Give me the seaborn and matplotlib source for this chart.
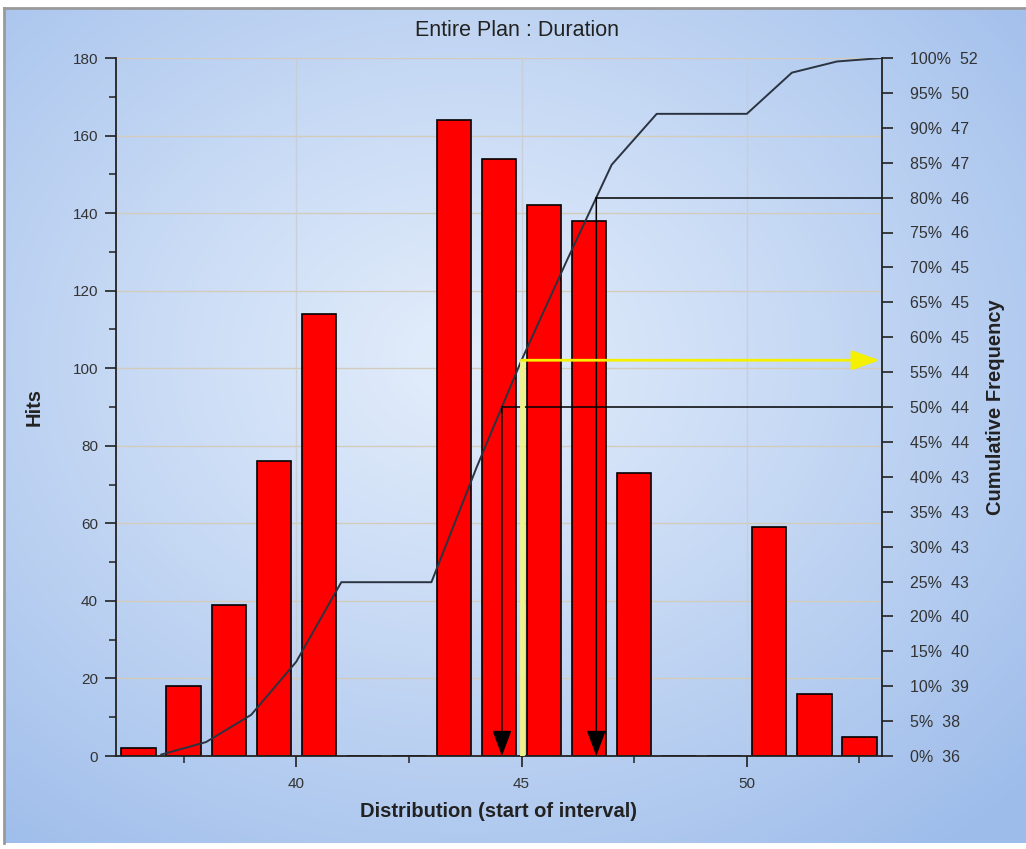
import numpy as np
import pandas as pd
import matplotlib
matplotlib.use('Agg')
import matplotlib.pyplot as plt
import seaborn as sns
from matplotlib.ticker import MultipleLocator

# histogram: start of each 1-unit interval and the hits in it
bin_starts = [36, 37, 38, 39, 40, 41, 42, 43, 44, 45, 46, 47, 48, 49, 50, 51, 52]
hits = [2, 18, 39, 76, 114, 0, 0, 164, 154, 142, 138, 73, 0, 0, 59, 16, 5]

# right axis: percentile ticks and the duration shown next to each
pct_ticks = [0, 5, 10, 15, 20, 25, 30, 35, 40, 45, 50, 55, 60, 65, 70, 75, 80, 85, 90, 95, 100]
pct_values = [36, 38, 39, 40, 40, 43, 43, 43, 43, 44, 44, 44, 45, 45, 45, 46, 46, 47, 47, 50, 52]

marked_pcts = [50, 80]
target_x = 45

df = pd.DataFrame({'start': bin_starts, 'hits': hits})

sns.set_theme(style='white')
plt.rcParams['font.family'] = ['Liberation Sans', 'DejaVu Sans']
text_col = '#333333'

W, H = 1026, 849
fig = plt.figure(figsize=(W / 100, H / 100), dpi=100)
fig.patch.set_facecolor('white')

# radial blue gradient panel behind everything
bg = fig.add_axes([4 / W, (H - 843) / H, 1 - 4 / W, (843 - 8) / H], zorder=-5)
gy, gx = np.mgrid[0:1:300j, 0:1:400j]
d = np.sqrt(((gx - 0.45) / 0.75) ** 2 + ((gy - 0.42) / 0.75) ** 2)
d = np.clip(d, 0, 1) ** 1.1
c_in = np.array([0.89, 0.93, 0.985])
c_out = np.array([0.62, 0.74, 0.92])
img = c_in[None, None, :] * (1 - d[..., None]) + c_out[None, None, :] * d[..., None]
bg.imshow(img, aspect='auto', extent=[0, 1, 0, 1], origin='upper')
bg.set_xlim(0, 1)
bg.set_ylim(0, 1)
for s in ['right', 'bottom']:
    bg.spines[s].set_visible(False)
for s in ['left', 'top']:
    bg.spines[s].set_color('#9a9a9a')
    bg.spines[s].set_linewidth(2)
bg.set_xticks([])
bg.set_yticks([])

ax = fig.add_axes([116 / W, 93 / H, 766 / W, 698 / H])
ax.patch.set_alpha(0)

sns.histplot(data=df, x='start', weights='hits', binwidth=1, binrange=(36, 53),
             shrink=0.76, color='#ff0000', edgecolor='black', linewidth=1.2,
             alpha=1, ax=ax)

ax.set_xlim(36, 53)
ax.set_ylim(0, 180)
ax.xaxis.set_major_locator(MultipleLocator(5))
ax.xaxis.set_minor_locator(MultipleLocator(2.5))
ax.yaxis.set_major_locator(MultipleLocator(20))
ax.yaxis.set_minor_locator(MultipleLocator(10))
ax.set_axisbelow(True)
ax.grid(True, axis='y', which='major', color='#d3ccbd', lw=1)
ax.grid(True, axis='x', which='major', color='#c9ccd2', lw=1, alpha=0.8)

ax.tick_params(axis='both', which='major', direction='out', length=8, width=1.2,
               color='#222222', labelcolor=text_col, labelsize=11)
ax.tick_params(axis='y', which='major', pad=5)
ax.tick_params(axis='x', which='major', pad=7)
ax.tick_params(axis='both', which='minor', direction='out', length=5, width=1.1,
               color='#222222')
ax.tick_params(axis='x', which='both', bottom=True)
ax.tick_params(axis='y', which='both', left=True)

for s in ['top', 'right']:
    ax.spines[s].set_visible(False)
for s in ['left', 'bottom']:
    ax.spines[s].set_color('#222222')
    ax.spines[s].set_linewidth(1.3)

ax.set_xlabel('Distribution (start of interval)', fontsize=14.5, fontweight='bold',
              color='#222222', labelpad=8)
ax.set_ylabel('Hits', fontsize=14.5, fontweight='bold', color='#222222', labelpad=21)

# cumulative frequency on the right axis
ax2 = ax.twinx()
ax2.patch.set_alpha(0)
ax2.set_ylim(0, 100)
ax2.set_yticks(pct_ticks)
ax2.set_yticklabels([f'{p}%  {v}' for p, v in zip(pct_ticks, pct_values)])
ax2.tick_params(axis='y', direction='out', length=8, width=1.2, color='#222222',
                labelcolor=text_col, labelsize=11.5, pad=12, right=True)
for s in ['top', 'left', 'bottom']:
    ax2.spines[s].set_visible(False)
ax2.spines['right'].set_color('#222222')
ax2.spines['right'].set_linewidth(1.3)
ax2.set_ylabel('Cumulative Frequency', fontsize=14.5, fontweight='bold',
               color='#222222', labelpad=6)

edges = np.array(bin_starts) + 1
cum = np.cumsum(hits) / np.sum(hits) * 100
sns.lineplot(x=edges, y=cum, ax=ax2, color='#2b3340', lw=1.4)

xmax = ax.get_xlim()[1]
for p in marked_pcts:
    xp = np.interp(p, cum, edges)
    ax2.plot([xp, xmax], [p, p], color='black', lw=1.1)
    ax2.annotate('', xy=(xp, 0), xytext=(xp, p),
                 arrowprops=dict(arrowstyle='-|>,head_length=0.8,head_width=0.3',
                                 color='black', lw=1.1, shrinkA=0, shrinkB=0,
                                 mutation_scale=20))

yt = np.interp(target_x, edges, cum)
ax2.plot([target_x, target_x], [0, yt], color='#f0f28a', lw=3.5, solid_capstyle='butt')
ax2.annotate('', xy=(xmax - 0.05, yt), xytext=(target_x, yt),
             arrowprops=dict(arrowstyle='-|>,head_length=0.85,head_width=0.3',
                             color='#f4f000', lw=2, shrinkA=0, shrinkB=0,
                             mutation_scale=20))

fig.text(517 / W, 1 - 31 / H, 'Entire Plan : Duration', ha='center', va='center',
         fontsize=15.5, color='#222222')

fig.savefig('out.png', dpi=100)
